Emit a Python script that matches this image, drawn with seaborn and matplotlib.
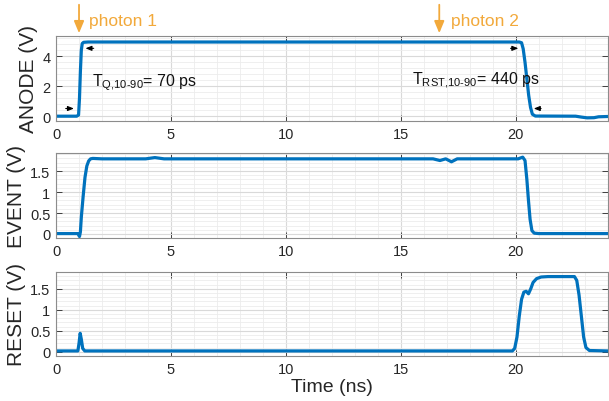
import matplotlib
matplotlib.use("Agg")
import matplotlib.pyplot as plt
import seaborn as sns
import numpy as np
from matplotlib.ticker import MultipleLocator

sns.set_theme(style="white")
plt.rcParams['font.family'] = ['Liberation Sans', 'DejaVu Sans']
plt.rcParams['mathtext.fontset'] = 'custom'
plt.rcParams['mathtext.rm'] = 'Liberation Sans'

# ---- data ----
anode_t = [0, 0.9, 0.98, 1.02, 1.06, 1.1, 1.14, 1.2, 1.4, 20.15, 20.25, 20.32, 20.4, 20.48, 20.56, 20.64, 20.72, 20.85, 22.6, 22.85, 23.1, 23.4, 23.6, 24]
anode_v = [0.02, 0.02, 0.1, 1.2, 3.0, 4.4, 4.85, 4.93, 4.95, 4.95, 4.9, 4.5, 3.6, 2.5, 1.4, 0.6, 0.15, 0.03, 0.02, -0.04, -0.09, -0.08, -0.02, 0.0]

event_t = [0, 0.95, 1.02, 1.06, 1.1, 1.18, 1.26, 1.34, 1.42, 1.5, 1.6, 2.0, 3.9, 4.3, 4.7, 16.4, 16.7, 16.95, 17.2, 17.45, 20.1, 20.3, 20.4, 20.48, 20.55, 20.62, 20.7, 20.8, 21.0, 24]
event_v = [0.01, 0.01, -0.06, 0.05, 0.4, 0.9, 1.35, 1.62, 1.74, 1.79, 1.8, 1.79, 1.79, 1.82, 1.79, 1.79, 1.75, 1.79, 1.72, 1.79, 1.79, 1.83, 1.75, 1.3, 0.8, 0.35, 0.08, 0.02, 0.01, 0.01]

reset_t = [0, 0.95, 1.0, 1.05, 1.1, 1.16, 1.25, 1.4, 19.85, 19.95, 20.05, 20.15, 20.25, 20.35, 20.45, 20.55, 20.65, 20.75, 20.9, 21.1, 21.4, 22.55, 22.65, 22.75, 22.85, 22.95, 23.05, 23.2, 24]
reset_v = [0.02, 0.02, 0.2, 0.44, 0.3, 0.08, 0.02, 0.02, 0.02, 0.08, 0.35, 0.85, 1.25, 1.42, 1.44, 1.38, 1.5, 1.65, 1.74, 1.78, 1.79, 1.79, 1.7, 1.35, 0.85, 0.35, 0.1, 0.03, 0.02]

panels = [
    ("ANODE (V)", anode_t, anode_v, (-0.3, 5.35), [0, 2, 4], 0.4),
    ("EVENT (V)", event_t, event_v, (-0.1, 1.93), [0, 0.5, 1, 1.5], 0.1),
    ("RESET (V)", reset_t, reset_v, (-0.1, 1.9), [0, 0.5, 1, 1.5], 0.1),
]
xticks = [0, 5, 10, 15, 20]
ytick_labels = {0: "0", 0.5: "0.5", 1: "1", 1.5: "1.5", 2: "2", 4: "4"}

line_color = "#0072BD"
orange = "#F2A93B"

fig = plt.figure(figsize=(6.09, 4.02), dpi=100)
rects = [
    [0.092, 0.6965, 0.906, 0.2115],
    [0.092, 0.405, 0.906, 0.212],
    [0.092, 0.112, 0.906, 0.209],
]
axes = []
for rect, (lab, t, v, ylim, yt, ymin) in zip(rects, panels):
    ax = fig.add_axes(rect)
    sns.lineplot(x=t, y=v, ax=ax, color=line_color, linewidth=2.3, estimator=None, sort=False)
    ax.set_xlim(0, 24)
    ax.set_ylim(*ylim)
    ax.set_xticks(xticks)
    ax.set_yticks(yt)
    ax.set_yticklabels([ytick_labels[y] for y in yt])
    ax.xaxis.set_minor_locator(MultipleLocator(1))
    ax.yaxis.set_minor_locator(MultipleLocator(ymin))
    ax.grid(which='major', color='#d9d9d9', linewidth=0.8)
    ax.grid(which='minor', color='#ececec', linewidth=0.6)
    ax.set_axisbelow(True)
    ax.tick_params(which='major', direction='in', length=4, width=0.6, top=True, right=True,
                   labelsize=10.5, colors='#262626', pad=4, bottom=True, left=True)
    ax.tick_params(which='minor', length=0)
    for s in ax.spines.values():
        s.set_color('#8c8c8c')
        s.set_linewidth(0.8)
    ax.set_ylabel(lab, fontsize=15, color='#262626', labelpad=3)
    ax.set_xlabel("")
    axes.append(ax)

axes[2].set_xlabel("Time (ns)", fontsize=14, color='#262626', labelpad=2)
fig.align_ylabels(axes)

ax = axes[0]
# photon arrows
for xp, txt, xt in [(1.0, "photon 1", 1.45), (16.67, "photon 2", 17.2)]:
    ax.annotate('', xy=(xp, 1.0), xycoords=('data', 'axes fraction'),
                xytext=(xp, 1.4), textcoords=('data', 'axes fraction'),
                arrowprops=dict(arrowstyle='-|>,head_width=0.25,head_length=0.6', color=orange, lw=1.3),
                annotation_clip=False)
    ax.text(xt, 1.18, txt, transform=ax.get_xaxis_transform(), color=orange, fontsize=12.5,
            va='center', ha='left', clip_on=False)

arrow_kw = dict(arrowstyle='-|>,head_width=0.12,head_length=0.3', color='black', lw=0.8)
ax.annotate('', xy=(0.9, 0.53), xytext=(0.3, 0.53), arrowprops=arrow_kw)
ax.annotate('', xy=(1.16, 4.53), xytext=(1.76, 4.53), arrowprops=arrow_kw)
ax.annotate('', xy=(20.23, 4.53), xytext=(19.65, 4.53), arrowprops=arrow_kw)
ax.annotate('', xy=(20.66, 0.53), xytext=(21.22, 0.53), arrowprops=arrow_kw)

ax.text(1.55, 2.3, '$\\mathregular{T_{Q{,}10\u201090}}$= 70 ps', fontsize=11.5, va='center', ha='left', color='#111111')
ax.text(15.47, 2.45, '$\\mathregular{T_{RST{,}10\u201090}}$= 440 ps', fontsize=11.5, va='center', ha='left', color='#111111')

fig.savefig("out.png", dpi=100)
